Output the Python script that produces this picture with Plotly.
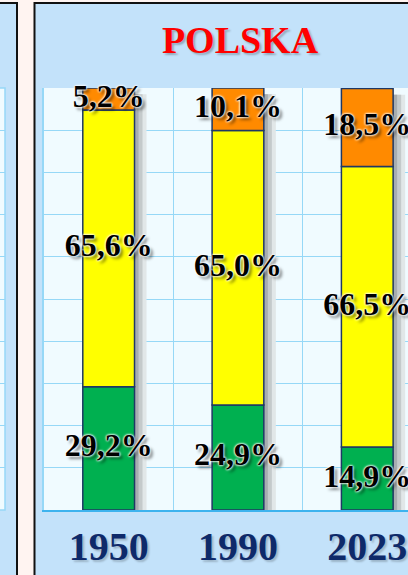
import plotly.graph_objects as go

# Population structure of Poland by age group (% of total)
years = ["1950", "1990", "2023"]
share_0_14 = [29.2, 24.9, 14.9]
share_15_64 = [65.6, 65.0, 66.5]
share_65_plus = [5.2, 10.1, 18.5]
group_names = ["0–14 lat", "15–64 lata", "65+ lat"]

green = "#00b050"
yellow = "#ffff00"
orange = "#ff8a00"
outline = "#1f3864"
panel_blue = "#c3e2fa"
plot_white = "#f0fbff"
grid_blue = "#96d8f7"

W, H = 408, 575
M_TOP, M_BOT = 88, 65
PLOT_H = H - M_TOP - M_BOT
bar_w = 0.40


def paper_y(px_from_top):
    """Convert a pixel row of the page into a paper y fraction."""
    return (H - M_BOT - px_from_top) / PLOT_H


base_mid = share_0_14
base_top = [a + b for a, b in zip(share_0_14, share_15_64)]
totals = [a + b + c for a, b, c in zip(share_0_14, share_15_64, share_65_plus)]

fig = go.Figure()

# soft drop shadow to the right of each column (three tones, light to dark)
for shift, col in [(0.093, "#e1e7e8"), (0.062, "#c4cacb"), (0.031, "#a7adb0")]:
    fig.add_trace(go.Bar(
        x=years, y=totals, base=[-1.5] * len(years),
        width=bar_w, offset=-bar_w / 2 + shift,
        marker=dict(color=col, line=dict(width=0)),
        showlegend=False, hoverinfo="skip",
    ))

segments = [
    (group_names[0], share_0_14, [0] * len(years), green),
    (group_names[1], share_15_64, base_mid, yellow),
    (group_names[2], share_65_plus, base_top, orange),
]
for name, vals, base, col in segments:
    fig.add_trace(go.Bar(
        name=name, x=years, y=vals, base=base,
        width=bar_w, offset=-bar_w / 2,
        marker=dict(color=col, line=dict(color=outline, width=1.5)),
        showlegend=False,
    ))

# value labels at the middle of each segment
lab_x, lab_y, lab_t = [], [], []
for name, vals, base, col in segments:
    for yr, v, b in zip(years, vals, base):
        lab_x.append(yr)
        lab_y.append(b + v / 2)
        lab_t.append(f"{v:.1f}".replace(".", ",") + "%")

fig.add_trace(go.Scatter(
    x=lab_x, y=lab_y, text=lab_t, mode="text",
    textposition="middle center", cliponaxis=False,
    textfont=dict(family="Liberation Serif", size=32, color="#000000",
                  weight="bold",
                  shadow="0 0 2px #ffffff, 0 0 2px #ffffff, 0 0 3px #ffffff, "
                         "3px 3px 3px rgba(0,0,0,0.45)"),
    showlegend=False, hoverinfo="skip",
))

# neighbouring panel's plot strip on the far left
fig.add_trace(go.Scatter(x=[0.5], y=[50], xaxis="x2", yaxis="y",
                         mode="markers", marker=dict(opacity=0),
                         showlegend=False, hoverinfo="skip"))

x0_main = 44 / W
fig.update_layout(
    width=W, height=H,
    margin=dict(l=0, r=0, t=M_TOP, b=M_BOT),
    paper_bgcolor="#fff4f1",
    plot_bgcolor=plot_white,
    barmode="overlay",
    showlegend=False,
    title=dict(text="POLSKA", x=240 / W, xref="container", xanchor="center",
               y=1 - 40 / H, yref="container", yanchor="middle",
               font=dict(family="Liberation Serif", size=38, color="#ff0000",
                         weight="bold", shadow="2px 2px 2px rgba(0,0,0,0.25)")),
    xaxis=dict(
        domain=[x0_main, 1], type="category", range=[-0.5, 2.315],
        tickson="boundaries", showgrid=True, gridcolor=grid_blue, gridwidth=1,
        ticks="outside", ticklen=14, tickcolor="rgba(0,0,0,0)",
        tickfont=dict(family="Liberation Serif", size=40, color="#0e2a6a",
                      weight="bold", shadow="2px 2px 2px rgba(0,0,0,0.2)"),
        showline=True, linecolor="#3db3ee", linewidth=2,
        zeroline=False, fixedrange=True,
    ),
    xaxis2=dict(domain=[0, 5 / W], anchor="y", range=[0, 1],
                showgrid=False, showticklabels=False, zeroline=False,
                showline=False),
    yaxis=dict(
        range=[0, 100], dtick=10, showticklabels=False, ticks="",
        showgrid=True, gridcolor=grid_blue, gridwidth=1,
        showline=True, linecolor=grid_blue, linewidth=1.5,
        zeroline=False, fixedrange=True,
    ),
    shapes=[
        # right panel frame
        dict(type="rect", xref="paper", yref="paper", layer="below",
             x0=34.5 / W, x1=1.1, y0=-0.4, y1=paper_y(3),
             fillcolor=panel_blue, line=dict(color="#111111", width=2)),
        # left panel frame
        dict(type="rect", xref="paper", yref="paper", layer="below",
             x0=-0.1, x1=17 / W, y0=-0.4, y1=paper_y(3),
             fillcolor=panel_blue, line=dict(color="#111111", width=2)),
        # plot areas
        dict(type="rect", xref="x domain", yref="y domain", layer="below",
             x0=0, x1=1, y0=0, y1=1, fillcolor=plot_white, line=dict(width=0)),
        dict(type="rect", xref="x2 domain", yref="y domain", layer="below",
             x0=-1, x1=1, y0=0, y1=1, fillcolor=plot_white,
             line=dict(color=grid_blue, width=1.5)),
    ],
)

fig.write_html("out.html")
